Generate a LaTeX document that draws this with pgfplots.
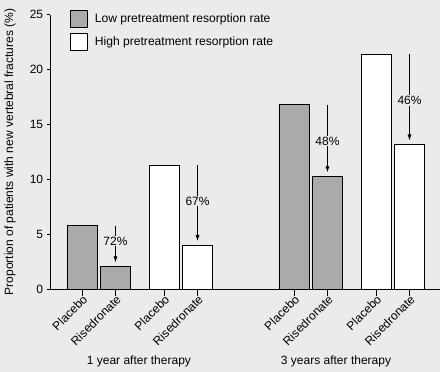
\documentclass[border=0pt]{standalone}
\usepackage{fontspec}
\setmainfont{Liberation Sans}
\usepackage{pgfplots}
\pgfplotsset{compat=1.18}
\usetikzlibrary{arrows.meta}
\definecolor{bgc}{RGB}{235,235,235}
\definecolor{barg}{RGB}{170,170,170}
\newcommand{\fs}{\fontsize{12}{14}\selectfont}
\newcommand{\fl}{\fontsize{12.1}{14}\selectfont}
\begin{document}
\begin{tikzpicture}[x=1pt,y=1pt]
\fill[bgc] (0,0) rectangle (440,372);
\useasboundingbox (0,0) rectangle (440,372);
\begin{axis}[
  at={(50pt,82.7pt)}, anchor=south west,
  scale only axis, width=390pt, height=274.6pt,
  xmin=-0.955, xmax=10.69, ymin=0, ymax=25,
  clip=false,
  axis x line*=bottom, axis y line*=left,
  axis line style={black, line width=0.8pt, -},
  ytick={0,5,...,25},
  xtick={0,1,2.45,3.45,6.33,7.33,8.78,9.78},
  xticklabels={Placebo,Risedronate,Placebo,Risedronate,Placebo,Risedronate,Placebo,Risedronate},
  tick align=outside,
  major tick length=3.3pt,
  x tick style={/pgfplots/major tick length=7pt, black, line width=0.8pt},
  y tick style={black, line width=0.8pt},
  /pgf/number format/assume math mode=true,
  ticklabel style={font=\fs},
  xticklabel style={rotate=45, anchor=north east, inner sep=1pt},
  ylabel={Proportion of patients with new vertebral fractures (\%)},
  ylabel style={at={(axis description cs:-0.1026,0.5)}, anchor=center, font=\fs},
  legend style={at={(axis description cs:0.0495,1)}, yshift=4.7pt, anchor=north west,
    draw=none, fill=none, inner sep=0pt, row sep=5.3pt, font=\fl,
    nodes={inner sep=0pt}},
  legend cell align=left,
  legend image code/.code={\draw[#1] (0pt,-8.5pt) rectangle (17pt,8.5pt);},
]
\addplot[ybar, bar width=0.9, bar shift=0pt, fill=barg, draw=black, line width=0.8pt]
  coordinates {(0,5.8) (1,2.1) (6.33,16.8) (7.33,10.3)};
\addlegendentry{\hspace{7.6pt}Low pretreatment resorption rate}
\addplot[ybar, bar width=0.9, bar shift=0pt, fill=white, draw=black, line width=0.8pt]
  coordinates {(2.45,11.3) (3.45,4.0) (8.78,21.4) (9.78,13.2)};
\addlegendentry{\hspace{7.6pt}High pretreatment resorption rate}

\draw[line width=0.7pt, -{Latex[length=6pt,width=4pt]}] (axis cs:1,5.8) -- (axis cs:1,2.45);
\node[fill=bgc, inner sep=1pt, font=\fs] at (axis cs:1,4.4) {72\%};
\draw[line width=0.7pt, -{Latex[length=6pt,width=4pt]}] (axis cs:3.45,11.3) -- (axis cs:3.45,4.4);
\node[fill=bgc, inner sep=1pt, font=\fs] at (axis cs:3.45,8.04) {67\%};
\draw[line width=0.7pt, -{Latex[length=6pt,width=4pt]}] (axis cs:7.33,16.8) -- (axis cs:7.33,10.65);
\node[fill=bgc, inner sep=1pt, font=\fs] at (axis cs:7.33,13.48) {48\%};
\draw[line width=0.7pt, -{Latex[length=6pt,width=4pt]}] (axis cs:9.78,21.4) -- (axis cs:9.78,13.55);
\node[fill=bgc, inner sep=1pt, font=\fs] at (axis cs:9.78,17.17) {46\%};

\node[font=\fs] at (axis cs:1.70,0) [yshift=-72pt] {1 year after therapy};
\node[font=\fs] at (axis cs:7.585,0) [yshift=-72pt] {3 years after therapy};
\end{axis}
\end{tikzpicture}
\end{document}
